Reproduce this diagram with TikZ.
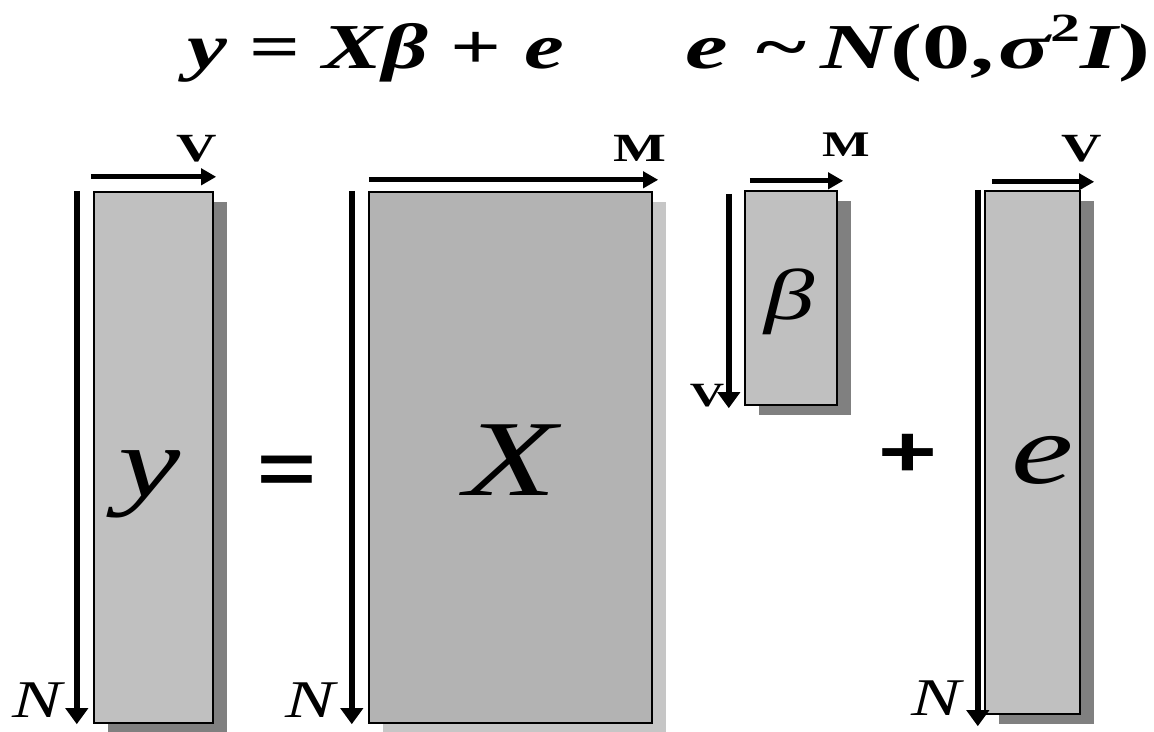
\documentclass[tikz,border=0pt]{standalone}
\usepackage{fontspec}
\setmainfont{Liberation Serif}
\newfontfamily\sansbold{Liberation Sans}
\usetikzlibrary{arrows.meta,shadows}
\newcommand{\hs}[1]{\scalebox{1.4}[1]{#1}}
\newcommand{\hsw}[1]{\scalebox{1.5}[1]{#1}}
\definecolor{boxgray}{HTML}{C0C0C0}
\definecolor{xgray}{HTML}{B3B3B3}
\definecolor{shadowdark}{HTML}{808080}
\definecolor{shadowlight}{HTML}{C6C6C6}
\tikzset{
  matbox/.style={draw=black, line width=2.4pt, fill=boxgray, inner sep=0pt,
    general shadow={fill=shadowdark, shadow xshift=14pt, shadow yshift=-10pt}},
  xbox/.style={draw=black, line width=2.4pt, fill=xgray, inner sep=0pt,
    general shadow={fill=shadowlight, shadow xshift=14pt, shadow yshift=-10pt}},
  downarr/.style={line width=6pt, -{Triangle[length=16pt,width=22pt]}},
  rightarr/.style={line width=5pt, -{Triangle[length=15pt,width=16pt]}},
  txt/.style={inner sep=0pt, outer sep=0pt},
  dimlabel/.style={txt, font=\fontsize{40}{40}\selectfont\bfseries},
  nlabel/.style={txt, font=\fontsize{53}{53}\selectfont\itshape},
}
\begin{document}
\begin{tikzpicture}[x=1pt,y=-1pt]
\useasboundingbox (0,0) rectangle (1154,731);
\fill[white] (0,0) rectangle (1154,731);

% top equations
\node[txt, anchor=base west, font=\fontsize{64}{64}\selectfont\bfseries\itshape] (eq1) at (187,68)
  {\hs{y {\upshape =} Xβ {\upshape +} e}};
\node[txt, anchor=base east, font=\fontsize{64}{64}\selectfont\bfseries\itshape] (eq2) at (1150,68)
  {\hsw{e\hspace{0.3em}{\upshape\char"007E}\hspace{0.15em}N{\upshape (0,}\hspace{0.05em}σ\raisebox{0.42em}{\fontsize{40}{40}\selectfont\upshape 2}I{\upshape )}}};

% boxes
\node[matbox, minimum width=119pt, minimum height=531pt] (ybox) at (153.5,457.5) {};
\node[xbox, minimum width=283pt, minimum height=531pt] (Xbox) at (510.5,457.5) {};
\node[matbox, minimum width=92pt, minimum height=214pt] (bbox) at (791,298) {};
\node[matbox, minimum width=95pt, minimum height=523pt] (ebox) at (1032.5,452.5) {};

% letters in boxes
\node[txt, anchor=base, font=\fontsize{100}{100}\selectfont\itshape] (ylet) at (150,496) {\hs{y}};
\node[txt, anchor=base, font=\fontsize{108}{108}\selectfont\itshape] (Xlet) at (511,495) {\hs{X}};
\node[txt, font=\fontsize{72}{72}\selectfont\itshape] (blet) at (790,302) {\hs{β}};
\node[txt, anchor=base, font=\fontsize{100}{100}\selectfont\itshape] (elet) at (1043,483) {\hs{e}};

% operators
\node[txt, font=\fontsize{72}{72}\selectfont\sansbold\bfseries] (eqsign) at (287,475) {\hs{=}};
\node[txt, font=\fontsize{72}{72}\selectfont\sansbold\bfseries] (plus) at (908,455) {\hs{+}};

% dimension arrows
\draw[downarr] ([xshift=-16pt]ybox.north west) -- ([xshift=-16pt]ybox.south west);
\draw[rightarr] ([xshift=-2pt,yshift=14pt]ybox.north west) -- ([xshift=2pt,yshift=14pt]ybox.north east);
\draw[downarr] ([xshift=-16pt]Xbox.north west) -- ([xshift=-16pt]Xbox.south west);
\draw[rightarr] ([xshift=1pt,yshift=11pt]Xbox.north west) -- ([xshift=5pt,yshift=11pt]Xbox.north east);
\draw[downarr] ([xshift=-15pt,yshift=-4pt]bbox.north west) -- ([xshift=-15pt,yshift=-2pt]bbox.south west);
\draw[rightarr] ([xshift=6pt,yshift=9pt]bbox.north west) -- ([xshift=5pt,yshift=9pt]bbox.north east);
\draw[downarr] ([xshift=-6pt]ebox.north west) -- ([xshift=-6pt,yshift=-11pt]ebox.south west);
\draw[rightarr] ([xshift=8pt,yshift=8pt]ebox.north west) -- ([xshift=13pt,yshift=8pt]ebox.north east);

% dimension labels
\node[dimlabel] (vy) at (197,149) {\hs{V}};
\node[dimlabel] (mx) at (640,148) {\hs{M}};
\node[dimlabel, font=\fontsize{36}{36}\selectfont\bfseries] (mb) at (846,145) {\hs{M}};
\node[dimlabel, font=\fontsize{34}{34}\selectfont\bfseries] (vb) at (707,396) {\hs{V}};
\node[dimlabel] (ve) at (1082,149) {\hs{V}};
\node[nlabel] (ny) at (37,700) {\hs{N}};
\node[nlabel] (nx) at (310,700) {\hs{N}};
\node[nlabel] (ne) at (936,698) {\hs{N}};
\end{tikzpicture}
\end{document}
